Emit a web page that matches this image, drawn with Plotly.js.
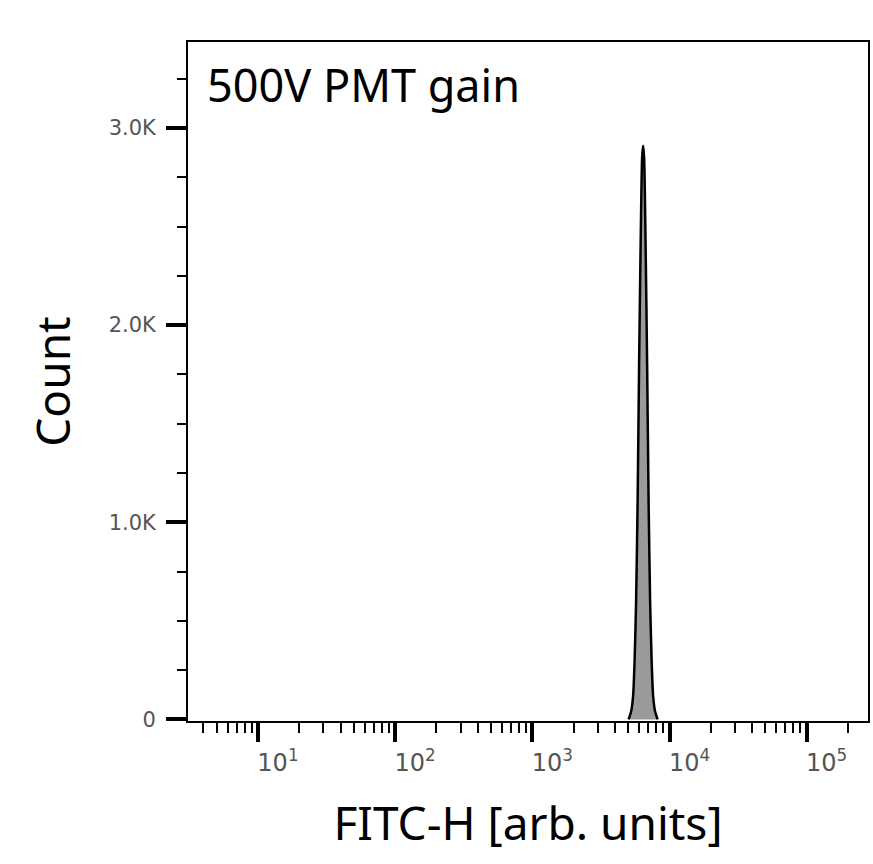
<!DOCTYPE html>
<html>
<head>
<meta charset="utf-8">
<script src="https://cdn.plot.ly/plotly-3.0.1.min.js"></script>
<style>html,body{margin:0;padding:0;background:#fff;}#chart{width:873px;height:864px;}</style>
</head>
<body>
<div id="chart"></div>
<script>
// FITC-H intensity (arb. units) at histogram bin positions
var fitcValues = [5033, 5250, 5429, 5567, 5709, 5854, 6003, 6157, 6315, 6422, 6531, 6697, 6869, 7043, 7222, 7407, 7594, 7854, 8191];
// Event counts per bin
var countValues = [0, 40, 120, 300, 600, 1100, 1800, 2400, 2850, 2910, 2850, 2400, 1800, 1100, 600, 300, 120, 40, 0];

var xTickVals = [10, 100, 1000, 10000, 100000];
var xTickText = ['10<sup>1</sup>', '10<sup>2</sup>', '10<sup>3</sup>', '10<sup>4</sup>', '10<sup>5</sup>'];
var xMinorVals = [3,4,5,6,7,8,9, 20,30,40,50,60,70,80,90, 200,300,400,500,600,700,800,900,
                  2000,3000,4000,5000,6000,7000,8000,9000, 20000,30000,40000,50000,60000,70000,80000,90000, 200000];
var yTickVals = [0, 1000, 2000, 3000];
var yTickText = ['0', '1.0K', '2.0K', '3.0K'];

var panelLabel = '500V PMT gain';
var xTitle = 'FITC-H [arb. units]';
var yTitle = 'Count';

var trace = {
  type: 'scatter',
  mode: 'lines',
  x: fitcValues,
  y: countValues,
  fill: 'tozeroy',
  fillcolor: '#9a9a9a',
  line: {color: '#000000', width: 2.5, shape: 'spline', smoothing: 0.6},
  hoverinfo: 'skip',
  showlegend: false
};

var xTickFont = {family: 'DejaVu Sans', size: 24, color: '#555555'};
var yTickFont = {family: 'DejaVu Sans', size: 21, color: '#555555'};
var titleFont = {family: 'Noto Sans', size: 46, color: '#000000'};
var labelFont = {family: 'Noto Sans', size: 45, color: '#000000'};

var layout = {
  width: 873,
  height: 864,
  margin: {l: 188, r: 5, t: 42, b: 143},
  paper_bgcolor: '#ffffff',
  plot_bgcolor: '#ffffff',
  showlegend: false,
  xaxis: {
    type: 'log',
    range: [0.49, 5.447],
    tickmode: 'array',
    tickvals: xTickVals,
    ticktext: xTickText,
    ticks: 'outside',
    ticklen: 19,
    tickwidth: 4,
    tickcolor: '#000000',
    ticklabelshift: 20,
    ticklabelstandoff: 0,
    tickfont: xTickFont,
    minor: {tickmode: 'array', tickvals: xMinorVals, ticks: 'outside', ticklen: 10, tickwidth: 2, tickcolor: '#000000', showgrid: false},
    showgrid: false,
    zeroline: false,
    showline: true,
    mirror: true,
    linecolor: '#000000',
    linewidth: 2,
    title: {text: xTitle, font: titleFont, standoff: 32}
  },
  yaxis: {
    range: [-8, 3436],
    tickmode: 'array',
    tickvals: yTickVals,
    ticktext: yTickText,
    ticks: 'outside',
    ticklen: 20,
    tickwidth: 4,
    tickcolor: '#000000',
    ticklabelstandoff: 6,
    tickfont: yTickFont,
    minor: {tickmode: 'linear', tick0: 0, dtick: 250, ticks: 'outside', ticklen: 9, tickwidth: 2, tickcolor: '#000000', showgrid: false},
    showgrid: false,
    zeroline: false,
    showline: true,
    mirror: true,
    linecolor: '#000000',
    linewidth: 2,
    title: {text: yTitle, font: titleFont, standoff: 24}
  },
  annotations: [{
    text: panelLabel,
    xref: 'paper', yref: 'paper',
    x: 0, y: 1,
    xanchor: 'left', yanchor: 'top',
    xshift: 17, yshift: -10,
    showarrow: false,
    font: labelFont
  }]
};

Plotly.newPlot('chart', [trace], layout, {displayModeBar: false, staticPlot: true});
</script>
</body>
</html>
